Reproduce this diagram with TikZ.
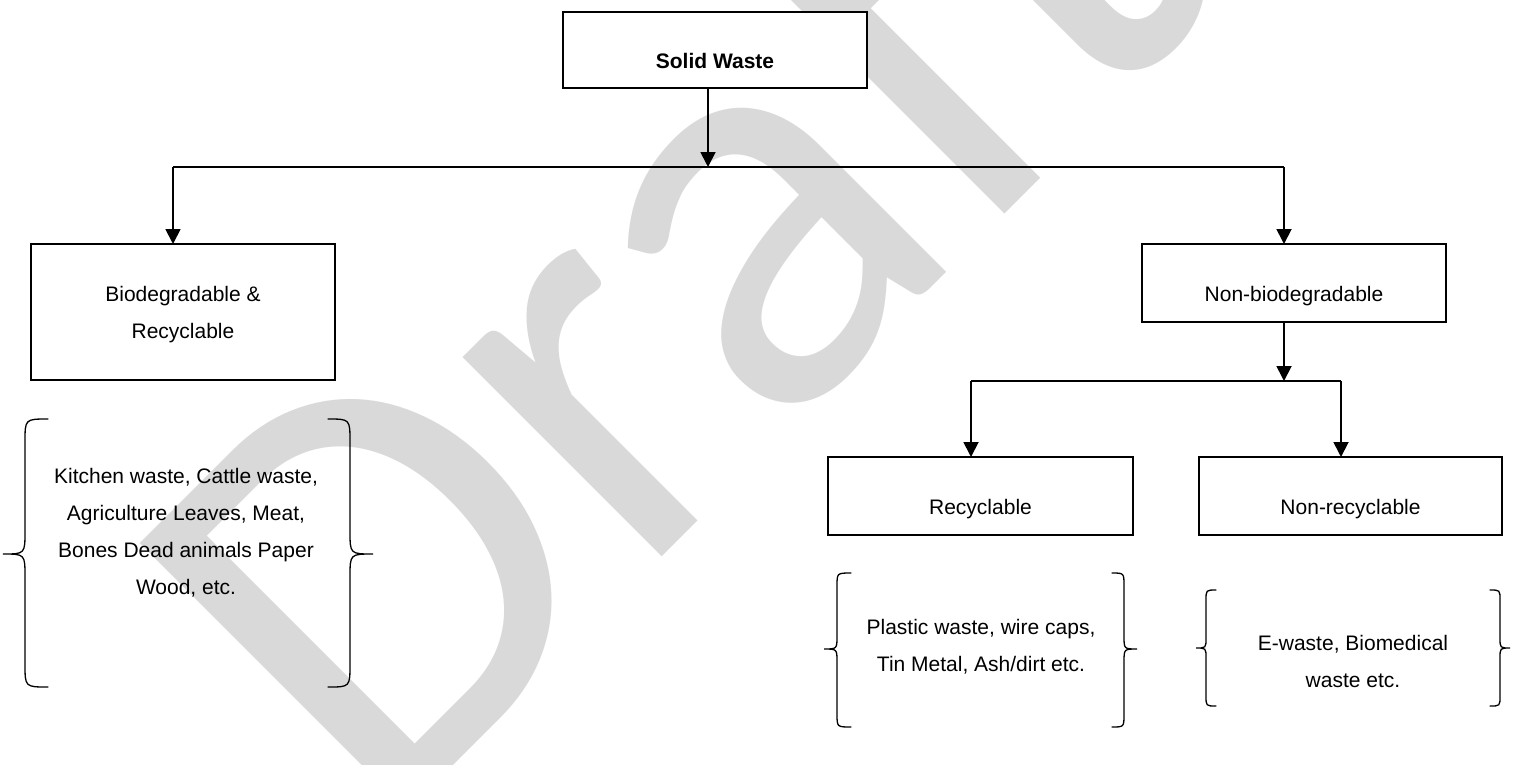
\documentclass[tikz,border=0pt]{standalone}
\usepackage{fontspec}
\setmainfont{Liberation Sans}
\newfontfamily\wmfont{Carlito}
\usetikzlibrary{arrows.meta}
\definecolor{wm}{HTML}{D9D9D9}
% #1 vertical x, #2 end x, #3 tip x, #4 top y, #5 mid y, #6 bottom y, #7 radius
\newcommand{\curlybrace}[7]{%
  \draw[curly] (#2,#4) .. controls (#1,#4) .. (#1,{#4+#7}) -- (#1,{#5-#7})
    .. controls (#1,#5) .. (#3,#5) .. controls (#1,#5) .. (#1,{#5+#7})
    -- (#1,{#6-#7}) .. controls (#1,#6) .. (#2,#6);}
\begin{document}
\begin{tikzpicture}[x=1pt,y=-1pt,
  box/.style={draw, line width=1.8pt, fill=white, inner sep=0pt, outer sep=0pt},
  lbl/.style={inner sep=0pt, anchor=base, font=\fontsize{21pt}{37pt}\selectfont},
  blk/.style={inner sep=0pt, anchor=north, align=center, font=\fontsize{21pt}{37pt}\selectfont},
  link/.style={line width=1.8pt},
  arr/.style={link, -{Triangle[width=15pt,length=15pt]}},
  curly/.style={line width=1.3pt, line cap=round},
  wmark/.style={rotate=45, anchor=base west, inner sep=0pt, text=wm, font=\wmfont\fontsize{590pt}{590pt}\selectfont}]
\useasboundingbox (0,0) rectangle (1514,764);
\fill[white] (0,0) rectangle (1514,764);
\begin{scope}
  \clip (0,0) rectangle (1514,764);
  \node[wmark] (draft) at (379,840) {Draft};
\end{scope}

% boxes
\node[box, minimum width=304pt, minimum height=76pt] (solid) at (715,50) {};
\node[box, minimum width=304pt, minimum height=136pt] (bio) at (183,312) {};
\node[box, minimum width=304pt, minimum height=78pt] (nonbio) at (1294,283) {};
\node[box, minimum width=305pt, minimum height=78pt] (recy) at (980.5,496) {};
\node[box, minimum width=303pt, minimum height=78pt] (nonrecy) at (1350.5,496) {};

% labels
\node[lbl] (solidtxt) at (715,68) {\bfseries Solid Waste};
\node[blk] (biotxt) at (183,286) {Biodegradable \&\\Recyclable};
\node[lbl] (nonbiotxt) at (1294,301) {Non-biodegradable};
\node[lbl] (recytxt) at (980.5,514) {Recyclable};
\node[lbl] (nonrecytxt) at (1350.5,514) {Non-recyclable};

% connectors
\coordinate (j1) at (708,167);
\coordinate (l1) at (173,167);
\coordinate (r1) at (1284,167);
\draw[arr] (solid.south -| j1) -- (j1);
\draw[link] (l1) -- (r1);
\draw[arr] (l1) -- (l1 |- bio.north);
\draw[arr] (r1) -- (r1 |- nonbio.north);
\coordinate (j2) at (1284,381);
\coordinate (l2) at (971,381);
\coordinate (r2) at (1341,381);
\draw[arr] (nonbio.south -| j2) -- (j2);
\draw[link] (l2) -- (r2);
\draw[arr] (l2) -- (l2 |- recy.north);
\draw[arr] (r2) -- (r2 |- nonrecy.north);

% braces and their contents
\curlybrace{25}{48}{3}{419}{554}{687}{23}
\curlybrace{350}{328}{373}{419}{554}{687}{23}
\node[blk] (kitchen) at (186,468) {Kitchen waste, Cattle waste,\\Agriculture Leaves, Meat,\\Bones Dead animals Paper\\Wood, etc.};
\curlybrace{837}{851}{824}{573}{649}{727}{13}
\curlybrace{1124}{1112}{1137}{573}{649}{727}{13}
\node[blk] (plastic) at (981,619) {Plastic waste, wire caps,\\Tin Metal, Ash/dirt etc.};
\curlybrace{1206}{1216}{1196}{590}{648}{706}{10}
\curlybrace{1500}{1490}{1510}{590}{648}{706}{10}
\node[blk] (ewaste) at (1353,635) {E-waste, Biomedical\\waste etc.};
\end{tikzpicture}
\end{document}
